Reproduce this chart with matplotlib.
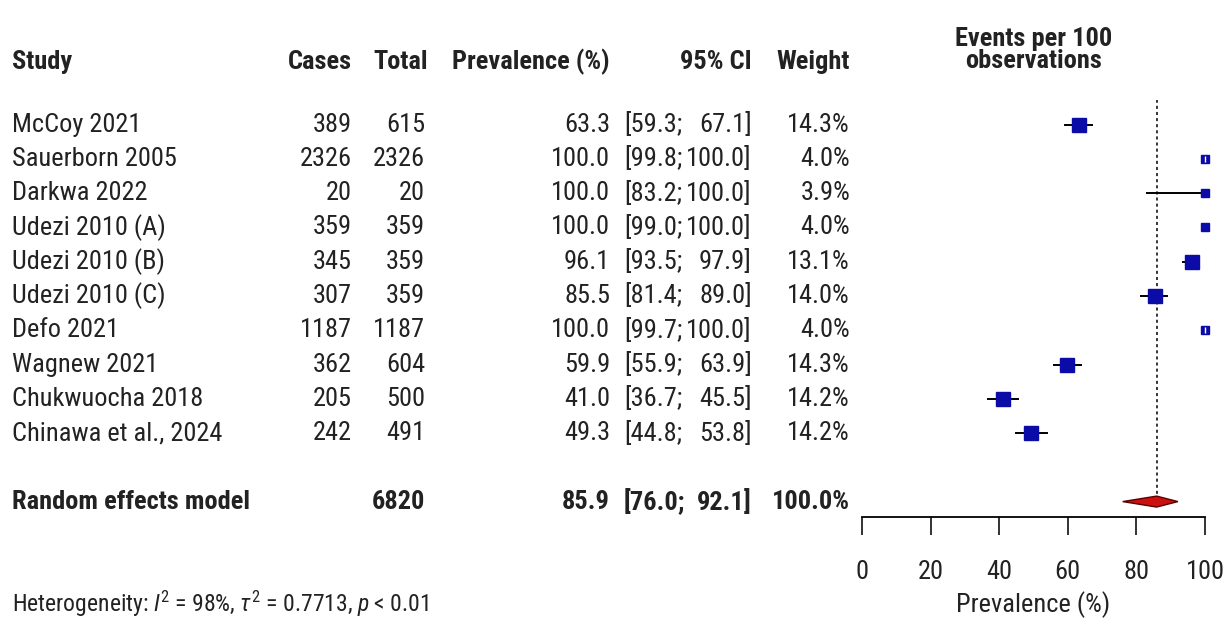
import numpy as np
import matplotlib
matplotlib.use('Agg')
import matplotlib.pyplot as plt
import matplotlib.transforms as mtransforms

plt.rcParams['font.family'] = ['Roboto Condensed', 'Liberation Sans', 'DejaVu Sans']
plt.rcParams['mathtext.fontset'] = 'custom'
plt.rcParams['mathtext.rm'] = 'Roboto Condensed'
plt.rcParams['mathtext.it'] = 'Roboto Condensed:italic'

# data
studies = ['McCoy 2021', 'Sauerborn 2005', 'Darkwa 2022', 'Udezi 2010 (A)', 'Udezi 2010 (B)',
           'Udezi 2010 (C)', 'Defo 2021', 'Wagnew 2021', 'Chukwuocha 2018', 'Chinawa et al., 2024']
cases = [389, 2326, 20, 359, 345, 307, 1187, 362, 205, 242]
totals = [615, 2326, 20, 359, 359, 359, 1187, 604, 500, 491]
prev = [63.3, 100.0, 100.0, 100.0, 96.1, 85.5, 100.0, 59.9, 41.0, 49.3]
ci_lo = [59.3, 99.8, 83.2, 99.0, 93.5, 81.4, 99.7, 55.9, 36.7, 44.8]
ci_hi = [67.1, 100.0, 100.0, 100.0, 97.9, 89.0, 100.0, 63.9, 45.5, 53.8]
weights = [14.3, 4.0, 3.9, 4.0, 13.1, 14.0, 4.0, 14.3, 14.2, 14.2]

pooled_total = 6820
pooled = 85.9
pooled_lo = 76.0
pooled_hi = 92.1
ticks = [0, 20, 40, 60, 80, 100]

W, H = 1231, 620
fig = plt.figure(figsize=(W / 100, H / 100), dpi=100)

fs = 19

# forest axes, x in prevalence units, y in row units
ax = fig.add_axes([862 / W, 103 / H, (1205 - 862) / W, 417 / H])
ax.set_xlim(0, 100)
ax.set_ylim(11.45, -0.72)
for s in ['top', 'right', 'left']:
    ax.spines[s].set_visible(False)
ax.spines['bottom'].set_linewidth(1.3)
ax.set_yticks([])
ax.set_xticks(ticks)
ax.tick_params(axis='x', length=13, width=1.3, labelsize=fs, pad=18, colors='#222222')
ax.set_xlabel('Prevalence (%)', fontsize=fs, labelpad=5, color='#222222')

ax.axvline(pooled, ymin=0.04, ymax=1, color='black', linestyle=(0, (2, 2)), linewidth=1.1)

rows = np.arange(len(studies))
for r, p, lo, hi, w in zip(rows, prev, ci_lo, ci_hi, weights):
    ms = 10.5 * np.sqrt(w / 14.3)
    ax.plot([lo, hi], [r, r], color='black', linewidth=1.4, clip_on=False, zorder=2)
    ax.plot(p, r, marker='s', markersize=ms, color='#0b0ba8', markeredgecolor='#0b0ba8',
            clip_on=False, zorder=3)
    if hi - lo < 0.5:
        # CI inside the square is drawn in white
        ax.plot(p, r, marker='|', markersize=ms * 0.9, color='white', markeredgewidth=1.0,
                clip_on=False, zorder=4)

# pooled diamond
pr = 11
ax.fill([pooled_lo, pooled, pooled_hi, pooled], [pr, pr - 0.16, pr, pr + 0.16],
        facecolor='#cc1010', edgecolor='#5a0000', linewidth=1.0, clip_on=False, zorder=3)

# text columns
tr = mtransforms.blended_transform_factory(fig.transFigure, ax.transData)
x_study, x_cases, x_total, x_prev, x_cil, x_cih, x_wt = 12, 352, 425, 610, 624, 752, 850
tc = '#222222'

def fx(px):
    return px / W

def put(px, y, s, ha, bold=False):
    ax.text(fx(px), y, s, transform=tr, fontsize=fs, va='center', ha=ha, color=tc,
            fontweight='bold' if bold else 'normal')

for r in rows:
    put(x_study, r, studies[r], 'left')
    put(x_cases, r, str(cases[r]), 'right')
    put(x_total, r, str(totals[r]), 'right')
    put(x_prev, r, f'{prev[r]:.1f}', 'right')
    put(x_cil, r, f'[{ci_lo[r]:.1f};', 'left')
    put(x_cih, r, f'{ci_hi[r]:.1f}]', 'right')
    put(x_wt, r, f'{weights[r]:.1f}%', 'right')

# pooled row
put(x_study, pr, 'Random effects model', 'left', True)
put(x_total, pr, str(pooled_total), 'right', True)
put(x_prev, pr, f'{pooled:.1f}', 'right', True)
put(x_cil, pr, f'[{pooled_lo:.1f};', 'left', True)
put(x_cih, pr, f'{pooled_hi:.1f}]', 'right', True)
put(x_wt, pr, '100.0%', 'right', True)

# headers
hy = -1.84
put(x_study, hy, 'Study', 'left', True)
put(x_cases, hy, 'Cases', 'right', True)
put(428, hy, 'Total', 'right', True)
put(x_prev, hy, 'Prevalence (%)', 'right', True)
put(x_cih, hy, '95% CI', 'right', True)
put(x_wt, hy, 'Weight', 'right', True)
ax.text(50, -2.5, 'Events per 100', fontsize=fs, va='center', ha='center',
        fontweight='bold', color=tc)
ax.text(50, -1.86, 'observations', fontsize=fs, va='center', ha='center',
        fontweight='bold', color=tc)

ax.text(fx(x_study), 14.0, r'Heterogeneity: $I^2$ = 98%, $\tau^2$ = 0.7713, $p$ < 0.01',
        transform=tr, fontsize=17, va='center', ha='left', color=tc)

fig.savefig('out.png', dpi=100)
